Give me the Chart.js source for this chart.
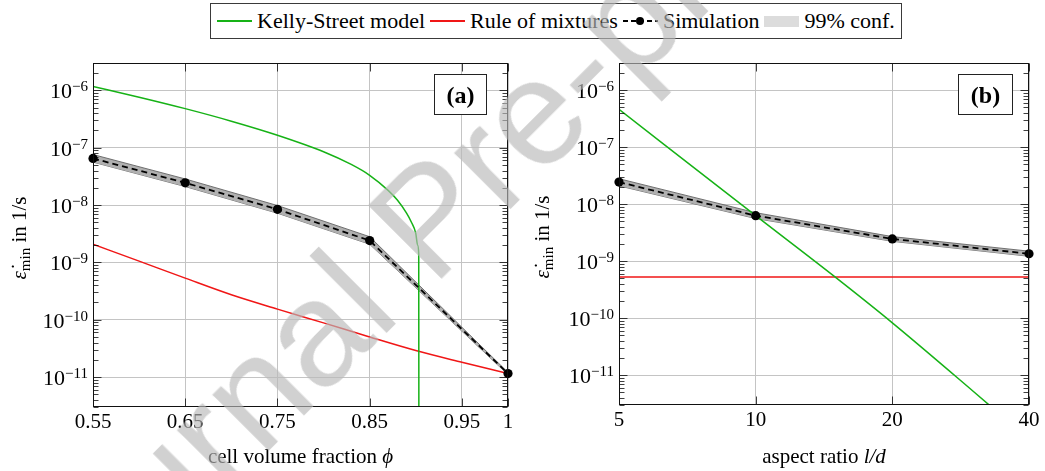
<!DOCTYPE html>
<html>
<head>
<meta charset="utf-8">
<title>Minimum creep rate</title>
<script src="https://cdn.jsdelivr.net/npm/chart.js@4.4.1/dist/chart.umd.min.js"></script>
<style>
  html, body { margin: 0; padding: 0; background: #fff; }
  #fig { position: relative; width: 1045px; height: 471px; overflow: hidden; font-family: "Liberation Serif", "Times New Roman", serif; }
  #fig canvas { position: absolute; top: 0; }
  #chartA { left: 0; }
  #chartB { left: 520px; }
  #legend { position: absolute; left: 210px; top: 3px; height: 34px; padding: 0 6px; border: 1px solid #3a3a3a; background: #fff;
            display: flex; align-items: center; font-size: 22px; white-space: nowrap; color: #000; }
  #legend .item { display: flex; align-items: center; margin-right: 5px; }
  #legend .item:last-child { margin-right: 0; }
  #legend .swatch { position: relative; width: 35px; height: 14px; margin-right: 5px; }
  #legend .swatch .ln { position: absolute; left: 0; right: 0; top: 6px; height: 1.5px; }
  #legend .swatch .dot { position: absolute; left: 13px; top: 3px; width: 8px; height: 8px; border-radius: 50%; background: #000; }
  #legend .swatch .box { position: absolute; left: 0; right: 0; top: 2px; height: 11px; }
  #watermark { position: absolute; left: 428px; top: 218px; transform: translate(-50%, -50%) rotate(-45deg);
               font: 150px/1 "Liberation Sans", sans-serif; color: rgba(185, 185, 185, 0.65); white-space: nowrap; pointer-events: none; }
</style>
</head>
<body>
<div id="fig">
  <canvas id="chartA" width="520" height="471"></canvas>
  <canvas id="chartB" width="525" height="471"></canvas>
  <div id="legend"></div>
  <div id="watermark">Journal Pre-proof</div>
</div>
<script>
// ---- panel (a): minimum strain rate over cell volume fraction ----
const phiKelly  = [0.55, 0.60, 0.65, 0.70, 0.75, 0.80, 0.83, 0.85, 0.87, 0.88, 0.89, 0.895, 0.90, 0.902, 0.9032, 0.9034];
const rateKelly = [1.17e-6, 7.6e-7, 4.8e-7, 2.9e-7, 1.65e-7, 8.5e-8, 5.1e-8, 3.3e-8, 1.8e-8, 1.22e-8, 7.2e-9, 5.1e-9, 3.2e-9, 2.0e-9, 1.4e-9, 1e-13];
const phiMix    = [0.55, 0.60, 0.65, 0.70, 0.75, 0.80, 0.85, 0.90, 0.95, 1.0];
const rateMix   = [2.07e-9, 1.05e-9, 5.3e-10, 2.72e-10, 1.53e-10, 8.8e-11, 5.0e-11, 2.9e-11, 1.81e-11, 1.15e-11];
const phiSim    = [0.55, 0.65, 0.75, 0.85, 1.0];
const rateSim   = [6.5e-8, 2.44e-8, 8.4e-9, 2.4e-9, 1.15e-11];
const confHiA   = [7.6e-8, 2.85e-8, 9.8e-9, 2.8e-9, 1.2e-11];
const confLoA   = [5.6e-8, 2.1e-8, 7.2e-9, 2.07e-9, 1.1e-11];
const phiTicks  = [0.55, 0.65, 0.75, 0.85, 0.95, 1];

// ---- panel (b): minimum strain rate over aspect ratio ----
const ldKelly    = [5, 10, 15, 20, 30, 40];
const rateKellyB = [4.6e-7, 6.3e-9, 5.2e-10, 8.3e-11, 5.4e-12, 7.5e-13];
const ldMix      = [5, 40];
const rateMixB   = [5.3e-10, 5.3e-10];
const ldSim      = [5, 10, 20, 40];
const rateSimB   = [2.44e-8, 6.3e-9, 2.46e-9, 1.35e-9];
const confHiB    = [2.8e-8, 7.1e-9, 2.7e-9, 1.5e-9];
const confLoB    = [2.1e-8, 5.6e-9, 2.23e-9, 1.22e-9];
const ldTicks    = [5, 10, 20, 40];

const rateTicks = [1e-11, 1e-10, 1e-9, 1e-8, 1e-7, 1e-6];

const GREEN = 'rgb(22,178,22)';
const RED = 'rgb(240,22,22)';
const BAND = 'rgb(176,176,176)';
const SERIF = '"Liberation Serif", "Times New Roman", serif';

const pts = (xs, ys) => xs.map((x, i) => ({ x: x, y: ys[i] }));

function datasets(kx, ky, mx, my, sx, sy, hi, lo) {
  return [
    { label: 'Simulation', data: pts(sx, sy), borderColor: '#000', borderWidth: 1.8, borderDash: [6, 4],
      pointRadius: 4.6, pointBackgroundColor: '#000', pointBorderWidth: 0, clip: false, order: 0 },
    { label: 'Kelly-Street model', data: pts(kx, ky), borderColor: GREEN, borderWidth: 1.5, pointRadius: 0,
      cubicInterpolationMode: 'monotone', order: 1 },
    { label: 'Rule of mixtures', data: pts(mx, my), borderColor: RED, borderWidth: 1.5, pointRadius: 0,
      cubicInterpolationMode: 'monotone', order: 1 },
    { label: '99% conf.', data: pts(sx, hi), borderColor: 'rgba(100,100,100,0.9)', borderWidth: 1,
      backgroundColor: BAND, fill: '+1', pointRadius: 0, order: 2 },
    { label: '', data: pts(sx, lo), borderColor: 'rgba(100,100,100,0.9)', borderWidth: 1,
      fill: false, pointRadius: 0, order: 3 }
  ];
}

// draws a run of text pieces with different fonts / offsets (sub- and superscripts)
function drawRich(ctx, parts, x, y, align) {
  let w = 0;
  parts.forEach(p => { ctx.font = p.font; p.w = ctx.measureText(p.text).width; w += p.w; });
  let cx = align === 'right' ? x - w : align === 'center' ? x - w / 2 : x;
  parts.forEach(p => { ctx.font = p.font; ctx.fillText(p.text, cx, y + (p.dy || 0)); cx += p.w; });
}

const panelDecor = {
  id: 'panelDecor',
  afterDatasetsDraw(chart) {
    const { ctx, chartArea: a, scales: { x, y } } = chart;
    const L = Math.round(a.left) + 0.5, R = Math.round(a.right) - 0.5;
    const T = Math.round(a.top) + 0.5, B = Math.round(a.bottom) - 0.5;
    ctx.save();
    ctx.lineWidth = 1;
    ctx.strokeStyle = 'rgba(0,0,0,0.75)';
    ctx.beginPath();
    const e0 = Math.floor(Math.log10(y.min)), e1 = Math.ceil(Math.log10(y.max));
    for (let e = e0; e <= e1; e++) {
      for (let m = 1; m <= 9; m++) {
        const v = m * Math.pow(10, e);
        if (v < y.min || v > y.max) continue;
        const len = m === 1 ? 8 : 5;
        const py = Math.round(y.getPixelForValue(v)) + 0.5;
        ctx.moveTo(L, py); ctx.lineTo(L + len, py);
        ctx.moveTo(R, py); ctx.lineTo(R - len, py);
      }
    }
    x.ticks.forEach(t => {
      const px = Math.round(x.getPixelForValue(t.value)) + 0.5;
      ctx.moveTo(px, B); ctx.lineTo(px, B - 8);
      ctx.moveTo(px, T); ctx.lineTo(px, T + 8);
    });
    ctx.stroke();
    ctx.strokeStyle = '#111';
    ctx.strokeRect(L, T, R - L, B - T);
    ctx.restore();
  },
  afterDraw(chart, args, opts) {
    const { ctx, chartArea: a, scales: { y } } = chart;
    ctx.save();
    ctx.fillStyle = '#000';
    ctx.textAlign = 'left';
    ctx.textBaseline = 'alphabetic';

    // decade labels 10^n
    y.ticks.forEach(t => {
      const py = y.getPixelForValue(t.value);
      const e = Math.round(Math.log10(t.value));
      drawRich(ctx, [
        { text: '10', font: '22px ' + SERIF },
        { text: '\u2212' + Math.abs(e), font: '15px ' + SERIF, dy: -7 }
      ], a.left - 5, py + 8, 'right');
    });

    // y axis title
    ctx.save();
    ctx.translate(opts.yTitleX, (a.top + a.bottom) / 2 + 3);
    ctx.rotate(-Math.PI / 2);
    drawRich(ctx, [
      { text: '\u03b5\u0307', font: 'italic 21px ' + SERIF },
      { text: 'min', font: '15px ' + SERIF, dy: 4 },
      { text: ' in 1/s', font: '21px ' + SERIF }
    ], 0, 0, 'center');
    ctx.restore();

    // x axis title
    drawRich(ctx, opts.xTitle.map(p => ({ text: p.text, font: (p.italic ? 'italic ' : '') + '21px ' + SERIF })),
      (a.left + a.right) / 2, 463, 'center');

    // panel tag
    const bw = opts.tag.w, bh = 40;
    const bx = Math.round(a.right - opts.tag.right - bw) + 0.5, by = Math.round(a.top + opts.tag.top) + 0.5;
    ctx.fillStyle = '#fff';
    ctx.fillRect(bx, by, bw, bh);
    ctx.strokeStyle = '#222';
    ctx.lineWidth = 1;
    ctx.strokeRect(bx, by, bw, bh);
    ctx.fillStyle = '#000';
    ctx.font = 'bold 24px ' + SERIF;
    ctx.textAlign = 'center';
    ctx.fillText(opts.tag.text, bx + bw / 2, by + bh / 2 + 8);
    ctx.restore();
  }
};

function rateAxis(width) {
  return {
    type: 'logarithmic', min: 3e-12, max: 3e-6,
    afterBuildTicks: s => { s.ticks = rateTicks.map(v => ({ value: v })); },
    afterFit: s => { s.width = width; },
    grid: { color: '#c4c4c4', lineWidth: 1, drawTicks: false },
    border: { display: false },
    ticks: { display: false }
  };
}

function makePanel(id, cfg) {
  return new Chart(document.getElementById(id), {
    type: 'line',
    data: { datasets: cfg.datasets },
    options: {
      responsive: false,
      animation: false,
      events: [],
      layout: { padding: { left: 0, right: cfg.padRight, top: 63, bottom: 0 } },
      plugins: { legend: { display: false }, tooltip: { enabled: false }, panelDecor: cfg.decor },
      scales: {
        x: {
          type: cfg.xType, min: cfg.xMin, max: cfg.xMax,
          afterBuildTicks: s => { s.ticks = cfg.xTicks.map(v => ({ value: v })); },
          afterFit: s => { s.height = cfg.xHeight; },
          grid: { color: '#c4c4c4', lineWidth: 1, drawTicks: false },
          border: { display: false },
          ticks: { autoSkip: false, maxRotation: 0, padding: 3, color: '#000',
                   font: { family: SERIF, size: 21 }, callback: v => String(v) }
        },
        y: rateAxis(cfg.yWidth)
      }
    },
    plugins: [panelDecor]
  });
}

makePanel('chartA', {
  datasets: datasets(phiKelly, rateKelly, phiMix, rateMix, phiSim, rateSim, confHiA, confLoA),
  xType: 'linear', xMin: 0.55, xMax: 1, xTicks: phiTicks,
  padRight: 12, yWidth: 93, xHeight: 64,
  decor: { yTitleX: 25.5, xTitle: [{ text: 'cell volume fraction ' }, { text: '\u03d5', italic: true }],
           tag: { text: '(a)', w: 52, right: 22, top: 10.5 } }
});

makePanel('chartB', {
  datasets: datasets(ldKelly, rateKellyB, ldMix, rateMixB, ldSim, rateSimB, confHiB, confLoB),
  xType: 'logarithmic', xMin: 5, xMax: 40, xTicks: ldTicks,
  padRight: 16, yWidth: 99, xHeight: 66,
  decor: { yTitleX: 28.5, xTitle: [{ text: 'aspect ratio ' }, { text: 'l/d', italic: true }],
           tag: { text: '(b)', w: 54, right: 17, top: 11 } }
});

// shared legend above both panels
const legendItems = [
  { label: 'Kelly-Street model', kind: 'line', color: GREEN },
  { label: 'Rule of mixtures', kind: 'line', color: RED },
  { label: 'Simulation', kind: 'sim', color: '#000' },
  { label: '99% conf.', kind: 'band', color: '#dcdcdc' }
];
const legend = document.getElementById('legend');
legendItems.forEach(it => {
  const item = document.createElement('span');
  item.className = 'item';
  const sw = document.createElement('span');
  sw.className = 'swatch';
  if (it.kind === 'line') {
    sw.innerHTML = '<span class="ln" style="background:' + it.color + '"></span>';
  } else if (it.kind === 'sim') {
    sw.innerHTML = '<span class="ln" style="background:repeating-linear-gradient(90deg,#000 0 5px,transparent 5px 8px)"></span>' +
                   '<span class="dot"></span>';
  } else {
    sw.innerHTML = '<span class="box" style="background:' + it.color + '"></span>';
  }
  item.appendChild(sw);
  item.appendChild(document.createTextNode(it.label));
  legend.appendChild(item);
});
</script>
</body>
</html>
